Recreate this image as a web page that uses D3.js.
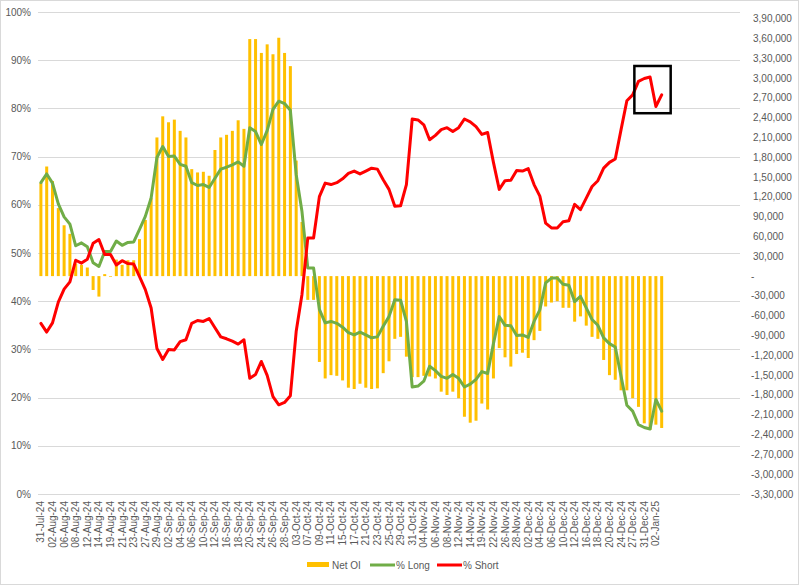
<!DOCTYPE html>
<html><head><meta charset="utf-8">
<script src="https://cdn.jsdelivr.net/npm/d3@7"></script>
<style>
body{margin:0;background:#fff}
svg{display:block}
text{font-family:"Liberation Sans",Arial,sans-serif;fill:#595959}
</style>
</head><body>
<svg id="chart" width="799" height="585"></svg>
<script>
const dates = ["31-Jul-24","01-Aug-24","02-Aug-24","05-Aug-24","06-Aug-24","07-Aug-24","08-Aug-24","09-Aug-24","12-Aug-24","13-Aug-24",
"14-Aug-24","16-Aug-24","19-Aug-24","20-Aug-24","21-Aug-24","22-Aug-24","23-Aug-24","26-Aug-24","27-Aug-24","28-Aug-24",
"29-Aug-24","30-Aug-24","02-Sep-24","03-Sep-24","04-Sep-24","05-Sep-24","06-Sep-24","09-Sep-24","10-Sep-24","11-Sep-24",
"12-Sep-24","13-Sep-24","16-Sep-24","17-Sep-24","18-Sep-24","19-Sep-24","20-Sep-24","23-Sep-24","24-Sep-24","25-Sep-24",
"26-Sep-24","27-Sep-24","28-Sep-24","30-Sep-24","03-Oct-24","04-Oct-24","07-Oct-24","08-Oct-24","09-Oct-24","10-Oct-24",
"11-Oct-24","14-Oct-24","15-Oct-24","16-Oct-24","17-Oct-24","18-Oct-24","21-Oct-24","22-Oct-24","23-Oct-24","24-Oct-24",
"25-Oct-24","28-Oct-24","29-Oct-24","30-Oct-24","31-Oct-24","01-Nov-24","04-Nov-24","05-Nov-24","06-Nov-24","07-Nov-24",
"08-Nov-24","11-Nov-24","12-Nov-24","13-Nov-24","14-Nov-24","18-Nov-24","19-Nov-24","21-Nov-24","22-Nov-24","25-Nov-24",
"26-Nov-24","27-Nov-24","28-Nov-24","29-Nov-24","02-Dec-24","03-Dec-24","04-Dec-24","05-Dec-24","06-Dec-24","09-Dec-24",
"10-Dec-24","11-Dec-24","12-Dec-24","13-Dec-24","16-Dec-24","17-Dec-24","18-Dec-24","19-Dec-24","20-Dec-24","23-Dec-24",
"24-Dec-24","26-Dec-24","27-Dec-24","30-Dec-24","31-Dec-24","01-Jan-25","02-Jan-25","03-Jan-25"];

const netOI = [141000,166000,144000,103000,77000,64000,19000,17000,13000,-21000,
-31000,3000,-1000,25000,17000,24000,24000,56000,85000,118000,
210000,242000,233000,237000,220000,210000,162000,157000,158000,152000,
191000,210000,214000,220000,236000,223000,359000,359000,338000,351000,
336000,361000,338000,318000,175000,82000,-36000,-36000,-130000,-155000,
-150000,-151000,-158000,-169000,-171000,-163000,-169000,-171000,-170000,-147000,
-129000,-95000,-92000,-122000,-153000,-153000,-151000,-152000,-155000,-175000,
-180000,-175000,-185000,-213000,-222000,-219000,-193000,-202000,-155000,-109000,
-123000,-137000,-118000,-116000,-124000,-97000,-83000,-46000,-40000,-38000,
-48000,-48000,-69000,-61000,-75000,-92000,-95000,-127000,-150000,-157000,
-173000,-173000,-185000,-198000,-223000,-233000,-225000,-230000];

const pctLong = [64.6,66.4,64.5,60.2,57.5,56.0,51.5,52.1,51.3,48.0,
47.2,50.3,50.3,52.5,51.6,52.2,52.3,54.9,57.6,61.4,
69.8,72.1,70.0,70.1,68.4,68.0,64.6,64.0,64.2,63.6,
65.5,67.4,67.8,68.3,68.9,68.0,76.0,75.2,72.5,75.4,
79.8,81.5,81.0,79.6,66.3,58.6,46.9,46.9,38.3,35.5,
35.8,35.4,34.6,33.5,33.0,33.6,33.0,32.4,32.6,34.8,
36.8,40.3,40.2,35.8,22.2,22.4,23.4,26.5,25.6,24.4,
24.0,24.8,24.0,22.2,22.8,23.8,25.4,25.0,31.2,36.8,
35.0,34.9,32.9,33.0,32.5,35.8,38.2,43.8,44.8,44.8,
43.5,43.3,39.9,41.0,38.6,36.2,35.0,32.4,31.2,30.5,
24.4,18.4,17.2,14.4,13.8,13.5,19.6,17.2];

const pctShort = [35.4,33.6,35.5,39.8,42.5,44.0,48.5,47.9,48.7,52.0,
52.8,49.7,49.7,47.5,48.4,47.8,47.7,45.1,42.4,38.6,
30.2,27.9,30.0,29.9,31.6,32.0,35.4,36.0,35.8,36.4,
34.5,32.6,32.2,31.7,31.1,32.0,24.0,24.8,27.5,24.6,
20.2,18.5,19.0,20.4,33.7,41.4,53.1,53.1,61.7,64.5,
64.2,64.6,65.4,66.5,67.0,66.4,67.0,67.6,67.4,65.2,
63.2,59.7,59.8,64.2,77.8,77.6,76.6,73.5,74.4,75.6,
76.0,75.2,76.0,77.8,77.2,76.2,74.6,75.0,68.8,63.2,
65.0,65.1,67.1,67.0,67.5,64.2,61.8,56.2,55.2,55.2,
56.5,56.7,60.1,59.0,61.4,63.8,65.0,67.6,68.8,69.5,
75.6,81.6,82.8,85.6,86.2,86.5,80.4,82.8];

const leftTicks = [0,10,20,30,40,50,60,70,80,90,100];
const leftTickLabels = ["0%","10%","20%","30%","40%","50%","60%","70%","80%","90%","100%"];
const rightTicks = [-330000,-300000,-270000,-240000,-210000,-180000,-150000,-120000,-90000,-60000,-30000,0,
30000,60000,90000,120000,150000,180000,210000,240000,270000,300000,330000,360000,390000];
const seriesNames = ["Net OI","% Long","% Short"];
const blankSlots = 13;

const colors = {bar:"#FFC000", long:"#70AD47", short:"#FF0000", grid:"#D9D9D9"};

const W = 799, H = 585;
const plot = {l:38, r:740, t:12, b:494};

const svg = d3.select("#chart");
svg.append("rect").attr("x",0.5).attr("y",0.5).attr("width",W-1).attr("height",H-1)
  .attr("fill","#fff").attr("stroke","#D9D9D9");

const domain = dates.concat(d3.range(blankSlots).map(i => "__blank" + i));
const x = d3.scaleBand().domain(domain).range([plot.l, plot.r]).paddingInner(0).paddingOuter(0);
const xc = d => x(d) + x.bandwidth() / 2;
const yL = d3.scaleLinear().domain([0, 100]).range([plot.b, plot.t]);
const yR = d3.scaleLinear().domain([-330000, 400000]).range([plot.b, plot.t]);

function indian(v){
  if (v === 0) return "-";
  const s = Math.abs(v).toString();
  const last3 = s.slice(-3);
  let rest = s.slice(0, -3);
  if (rest) rest = rest.replace(/\B(?=(\d{2})+(?!\d))/g, ",");
  return (v < 0 ? "-" : "") + (rest ? rest + "," + last3 : last3);
}

// gridlines
svg.append("g").selectAll("line").data(leftTicks).join("line")
  .attr("x1", plot.l).attr("x2", plot.r)
  .attr("y1", d => Math.round(yL(d)) + 0.5).attr("y2", d => Math.round(yL(d)) + 0.5)
  .attr("stroke", colors.grid).attr("stroke-width", 1);

// left axis labels
svg.append("g").selectAll("text").data(leftTicks).join("text")
  .attr("x", 31).attr("y", d => yL(d)).attr("dy", "0.35em")
  .attr("text-anchor", "end").attr("font-size", "10px")
  .text((d, i) => leftTickLabels[i]);

// right axis labels
svg.append("g").selectAll("text").data(rightTicks).join("text")
  .attr("x", d => d > 0 ? 753 : 751).attr("y", d => yR(d)).attr("dy", "0.35em")
  .attr("text-anchor", "start").attr("font-size", "10px")
  .text(d => indian(d));

// x axis labels (every other category)
const labelled = dates.filter((d, i) => i % 2 === 0);
svg.append("g").selectAll("text").data(labelled).join("text")
  .attr("transform", d => `translate(${xc(d)},${plot.b + 7}) rotate(-90)`)
  .attr("dy", "0.35em").attr("text-anchor", "end").attr("font-size", "10px")
  .text(d => d);

// bars
const barW = 3;
svg.append("g").selectAll("rect").data(dates).join("rect")
  .attr("x", d => xc(d) - barW / 2)
  .attr("width", barW)
  .attr("y", (d, i) => Math.min(yR(netOI[i]), yR(0)))
  .attr("height", (d, i) => Math.abs(yR(netOI[i]) - yR(0)))
  .attr("fill", colors.bar);

// lines
const line = vals => d3.line().x((d, i) => xc(dates[i])).y(d => yL(d))(vals);
svg.append("path").attr("d", line(pctLong)).attr("fill", "none")
  .attr("stroke", colors.long).attr("stroke-width", 3).attr("stroke-linejoin", "round").attr("stroke-linecap", "round");
svg.append("path").attr("d", line(pctShort)).attr("fill", "none")
  .attr("stroke", colors.short).attr("stroke-width", 3).attr("stroke-linejoin", "round").attr("stroke-linecap", "round");

// annotation box around the last days of % Short
const bx0 = xc(dates[102]) + 1.7, bx1 = xc(dates[107]) + 9;
const by0 = yL(88.8), by1 = yL(79.0);
svg.append("rect").attr("x", bx0).attr("y", by0).attr("width", bx1 - bx0).attr("height", by1 - by0)
  .attr("fill", "none").attr("stroke", "#000").attr("stroke-width", 2.5);

// legend
const lg = svg.append("g");
lg.append("rect").attr("x", 307).attr("y", 562).attr("width", 22).attr("height", 5).attr("fill", colors.bar);
lg.append("text").attr("x", 332).attr("y", 565).attr("dy", "0.35em").attr("font-size", "10px").text(seriesNames[0]);
lg.append("line").attr("x1", 370).attr("x2", 395).attr("y1", 565).attr("y2", 565).attr("stroke", colors.long).attr("stroke-width", 3);
lg.append("text").attr("x", 396).attr("y", 565).attr("dy", "0.35em").attr("font-size", "10px").text(seriesNames[1]);
lg.append("line").attr("x1", 437).attr("x2", 462).attr("y1", 565).attr("y2", 565).attr("stroke", colors.short).attr("stroke-width", 3);
lg.append("text").attr("x", 463).attr("y", 565).attr("dy", "0.35em").attr("font-size", "10px").text(seriesNames[2]);
</script>
</body></html>
